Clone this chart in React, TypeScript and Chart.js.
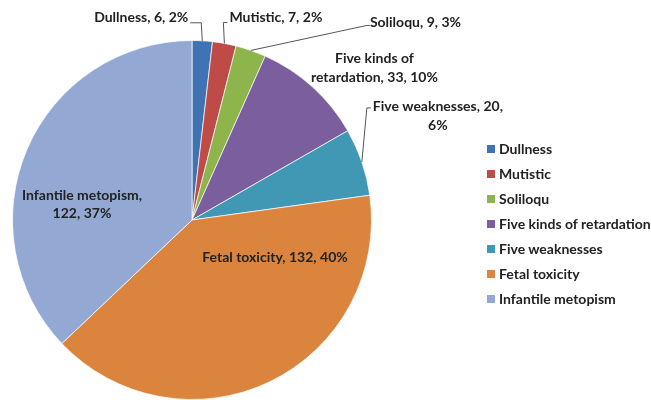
import React, { useEffect, useRef } from "react";
import { Chart, registerables } from "chart.js";

Chart.register(...registerables);

const categories = [
  "Dullness",
  "Mutistic",
  "Soliloqu",
  "Five kinds of retardation",
  "Five weaknesses",
  "Fetal toxicity",
  "Infantile metopism",
];
const values = [6, 7, 9, 33, 20, 132, 122];
const percentLabels = ["2%", "2%", "3%", "10%", "6%", "40%", "37%"];
const colors = ["#3F73B3", "#BF4B48", "#8DB54B", "#7B5E9E", "#4198B5", "#DB843D", "#93A9D3"];

const FONT = "bold 14px Lato, 'Open Sans', sans-serif";

type LabelSpec = {
  lines: (i: number) => string[];
  kind: "leader" | "outside" | "inside";
  path?: [number, number][];
  text: [number, number];
  align: CanvasTextAlign;
};

const full = (i: number) => `${categories[i]}, ${values[i]}, ${percentLabels[i]}`;

const labelSpecs: LabelSpec[] = [
  { lines: (i) => [full(i)], kind: "leader", path: [[-1, -18], [-12, -18]], text: [-14, -23], align: "right" },
  { lines: (i) => [full(i)], kind: "leader", path: [[-1, -21], [3, -21]], text: [5, -26], align: "left" },
  { lines: (i) => [full(i)], kind: "leader", path: [[116, -25], [119, -25]], text: [119, -28], align: "left" },
  { lines: (i) => ["Five kinds of", `retardation, ${values[i]}, ${percentLabels[i]}`], kind: "outside", text: [62, -28], align: "center" },
  { lines: (i) => ["Five weaknesses, 20,", percentLabels[i]], kind: "leader", path: [[5, -54], [9, -54]], text: [76, -55], align: "center" },
  { lines: (i) => [full(i)], kind: "inside", text: [83, 37], align: "center" },
  { lines: (i) => ["Infantile metopism,", `${values[i]}, ${percentLabels[i]}`], kind: "inside", text: [-110, -25], align: "center" },
];

const labelPlugin = {
  id: "sliceLabels",
  afterDatasetsDraw(chart: any) {
    const ctx = chart.ctx as CanvasRenderingContext2D;
    const meta = chart.getDatasetMeta(0);
    ctx.save();
    ctx.font = FONT;
    ctx.textBaseline = "middle";
    meta.data.forEach((arc: any, i: number) => {
      const spec = labelSpecs[i];
      const { x, y, startAngle, endAngle, outerRadius } = arc.getProps(
        ["x", "y", "startAngle", "endAngle", "outerRadius"],
        true
      );
      const mid = (startAngle + endAngle) / 2;
      const ex = x + Math.cos(mid) * outerRadius;
      const ey = y + Math.sin(mid) * outerRadius;
      let ax: number, ay: number;
      if (spec.kind === "inside") {
        ax = x + spec.text[0];
        ay = y + spec.text[1];
      } else {
        ax = ex + spec.text[0];
        ay = ey + spec.text[1];
      }
      if (spec.path) {
        ctx.strokeStyle = "#555";
        ctx.lineWidth = 1;
        ctx.beginPath();
        ctx.moveTo(ex, ey);
        spec.path.forEach(([dx, dy]) => ctx.lineTo(ex + dx, ey + dy));
        ctx.stroke();
      }
      ctx.fillStyle = "#222";
      ctx.textAlign = spec.align;
      const lines = spec.lines(i);
      lines.forEach((ln, k) => ctx.fillText(ln, ax, ay + k * 18.5));
    });
    ctx.restore();
  },
};

export default function App() {
  const ref = useRef<HTMLCanvasElement>(null);
  useEffect(() => {
    if (!ref.current) return;
    const chart = new Chart(ref.current, {
      type: "pie",
      data: {
        labels: categories,
        datasets: [
          {
            data: values,
            backgroundColor: colors,
            borderColor: "rgba(255,255,255,0.7)",
            borderWidth: 1,
          },
        ],
      },
      options: {
        responsive: false,
        animation: false,
        layout: { padding: { left: 12, right: 279, top: 40, bottom: 0 } },
        plugins: { legend: { display: false }, tooltip: { enabled: false } },
      },
      plugins: [labelPlugin],
    });
    return () => chart.destroy();
  }, []);

  return (
    <div style={{ position: "absolute", left: 0, top: 0, width: 651, height: 400, background: "#fff", overflow: "hidden" }}>
      <canvas ref={ref} width={651} height={400} style={{ width: 651, height: 400 }} />
      <div style={{ position: "absolute", left: 487, top: 136, font: FONT, color: "#222" }}>
        {categories.map((c, i) => (
          <div key={c} style={{ height: 25, display: "flex", alignItems: "center", whiteSpace: "nowrap" }}>
            <span style={{ width: 8, height: 8, background: colors[i], display: "inline-block", marginRight: 4 }} />
            {c}
          </div>
        ))}
      </div>
    </div>
  );
}
